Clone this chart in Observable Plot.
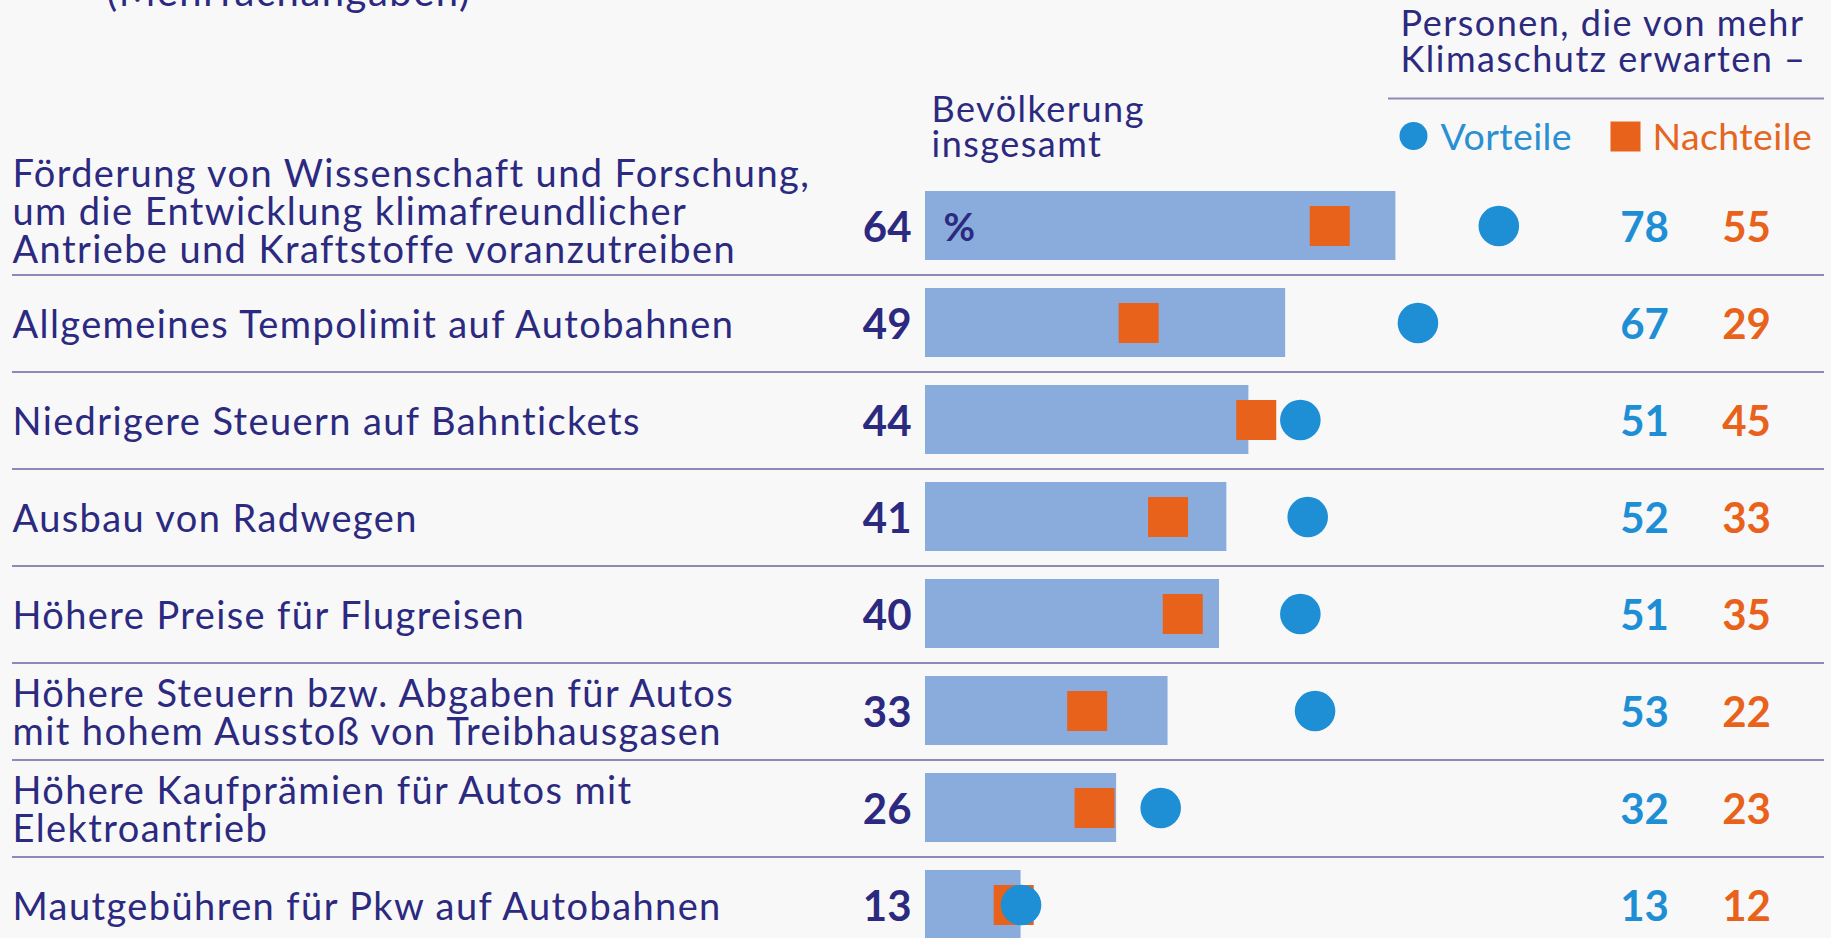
<!DOCTYPE html>
<html>
<head>
<meta charset="utf-8">
<script src="https://cdn.jsdelivr.net/npm/d3@7"></script>
<script src="https://cdn.jsdelivr.net/npm/@observablehq/plot@0.6"></script>
<style>
  html, body { margin: 0; padding: 0; background: #f8f8f8; overflow: hidden; }
  #chart svg { display: block; }
</style>
</head>
<body>
<div id="chart"></div>
<script>
// ---- data ----
const labels = [
  "Förderung von Wissenschaft und Forschung,\num die Entwicklung klimafreundlicher\nAntriebe und Kraftstoffe voranzutreiben",
  "Allgemeines Tempolimit auf Autobahnen",
  "Niedrigere Steuern auf Bahntickets",
  "Ausbau von Radwegen",
  "Höhere Preise für Flugreisen",
  "Höhere Steuern bzw. Abgaben für Autos\nmit hohem Ausstoß von Treibhausgasen",
  "Höhere Kaufprämien für Autos mit\nElektroantrieb",
  "Mautgebühren für Pkw auf Autobahnen"
];
const total     = [64, 49, 44, 41, 40, 33, 26, 13];
const vorteile  = [78, 67, 51, 52, 51, 53, 32, 13];
const nachteile = [55, 29, 45, 33, 35, 22, 23, 12];

const legendVorteile = "Vorteile";
const legendNachteile = "Nachteile";
const headTotal = "Bevölkerung\ninsgesamt";
const headGroup = "Personen, die von mehr\nKlimaschutz erwarten –";
const topNote = "(Mehrfachangaben)";
const unitLabel = "%";

const rows = labels.map((label, i) => ({label, total: total[i], vorteile: vorteile[i], nachteile: nachteile[i]}));

// ---- layout & style ----
const W = 1831, H = 938;
const navy = "#2c2a80", barColor = "#8aacdc", orange = "#e8621b", blue = "#1f8fd5", sepColor = "#8e8ab8";
const font = "Lato, 'Open Sans', sans-serif";
const x0 = 925, pxPerUnit = 7.35;
const rowPitch = 97.9, firstCenter = 222.5;
const yStart = firstCenter - rowPitch / 2;

const labelMarkA = Plot.text(rows.slice(0, 1), {y: "label", text: "label", frameAnchor: "left", dx: 12, dy: -13, textAnchor: "start", lineAnchor: "middle", fontSize: 38, lineHeight: 1.0, fill: navy});
const labelMarkB = Plot.text(rows.slice(1), {y: "label", text: "label", frameAnchor: "left", dx: 12, dy: 3, textAnchor: "start", lineAnchor: "middle", fontSize: 38, lineHeight: 1.0, fill: navy});

const chart = Plot.plot({
  width: W, height: H,
  marginTop: 0, marginRight: 0, marginBottom: 0, marginLeft: 0,
  style: {background: "#f8f8f8", fontFamily: font, overflow: "hidden"},
  x: {domain: [0, 100], range: [x0, x0 + 100 * pxPerUnit], axis: null},
  y: {domain: labels, range: [yStart, yStart + labels.length * rowPitch], padding: 0, axis: null},
  marks: [
    // row separators
    Plot.ruleY(rows, {y: "label", dy: rowPitch / 2, stroke: sepColor, strokeWidth: 2, insetLeft: 12, insetRight: 7}),
    // header line over right columns
    Plot.ruleY(rows.slice(0, 1), {y: "label", dy: 95 - firstCenter, stroke: sepColor, strokeWidth: 2, insetLeft: 1388, insetRight: 7}),
    // bars
    Plot.barX(rows, {x: "total", y: "label", fill: barColor, insetTop: 14, insetBottom: 14}),
    // Nachteile squares
    Plot.dot(rows, {x: "nachteile", y: "label", symbol: "square", r: 40 / Math.sqrt(Math.PI), fill: orange}),
    // Vorteile circles
    Plot.dot(rows, {x: "vorteile", y: "label", symbol: "circle", r: 20.3, fill: blue}),
    // row labels
    labelMarkA,
    labelMarkB,
    // totals
    Plot.text(rows, {y: "label", text: d => String(d.total), frameAnchor: "left", dx: 911, dy: 3, textAnchor: "end", fontSize: 42, fontWeight: 700, fill: navy}),
    Plot.text(rows.slice(0, 1), {y: "label", text: () => unitLabel, frameAnchor: "left", dx: 943, dy: 3, textAnchor: "start", fontSize: 38.5, fontWeight: 700, fill: navy}),
    // group values
    Plot.text(rows, {y: "label", text: d => String(d.vorteile), frameAnchor: "left", dx: 1644, dy: 3, textAnchor: "middle", fontSize: 42, fontWeight: 700, fill: blue}),
    Plot.text(rows, {y: "label", text: d => String(d.nachteile), frameAnchor: "left", dx: 1746, dy: 3, textAnchor: "middle", fontSize: 42, fontWeight: 700, fill: orange}),
    // headers
    Plot.text([topNote], {text: d => d, frameAnchor: "top-left", dx: 106, dy: 5, textAnchor: "start", lineAnchor: "bottom", fontSize: 40, fill: navy}),
    Plot.text([headTotal], {text: d => d, frameAnchor: "top-left", dx: 931, dy: 96, textAnchor: "start", lineAnchor: "top", fontSize: 36, lineHeight: 0.98, fill: navy}),
    Plot.text([headGroup], {text: d => d, frameAnchor: "top-left", dx: 1400, dy: 10, textAnchor: "start", lineAnchor: "top", fontSize: 36, lineHeight: 1.0, fill: navy}),
    // legend
    Plot.dot([legendVorteile], {frameAnchor: "top-left", dx: 1413, dy: 135.5, r: 14, symbol: "circle", fill: blue}),
    Plot.text([legendVorteile], {text: d => d, frameAnchor: "top-left", dx: 1440, dy: 149, textAnchor: "start", lineAnchor: "bottom", fontSize: 37.5, fill: "#2a90d2"}),
    Plot.dot([legendNachteile], {frameAnchor: "top-left", dx: 1625, dy: 136, r: 30 / Math.sqrt(Math.PI), symbol: "square", fill: orange}),
    Plot.text([legendNachteile], {text: d => d, frameAnchor: "top-left", dx: 1652, dy: 149, textAnchor: "start", lineAnchor: "bottom", fontSize: 37.5, fill: "#e4661f"})
  ]
});

// letter-spacing to approximate the wider original typeface
d3.select(chart).selectAll('g[font-size="38"] text').style("letter-spacing", "1.4px");
d3.select(chart).selectAll('g[font-size="36"] text, g[font-size="40"] text').style("letter-spacing", "1.5px");
d3.select(chart).selectAll('g[font-size="37.5"] text').style("letter-spacing", "0.4px");

document.getElementById("chart").appendChild(chart);
</script>
</body>
</html>
